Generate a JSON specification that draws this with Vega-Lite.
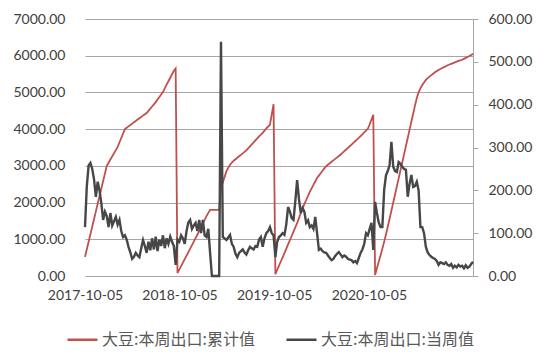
{
"$schema":"https://vega.github.io/schema/vega-lite/v6.json",
"width":388,"height":257,
"autosize":{"type":"none"},
"padding":{"left":85,"top":19,"right":77,"bottom":82},
"background":"white",
"config":{"view":{"stroke":null},"font":"Lato","axis":{"labelFont":"Lato","labelFontSize":14,"labelColor":"#404040"}},
"data":{"values":[
{"date":"2017-10-05","cum":520,"wk":114},{"date":"2017-10-12","cum":727,"wk":210},{"date":"2017-10-19","cum":933,"wk":258},{"date":"2017-10-26","cum":1140,"wk":264},{"date":"2017-11-02","cum":1347,"wk":250},{"date":"2017-11-09","cum":1553,"wk":225},{"date":"2017-11-16","cum":1760,"wk":185},{"date":"2017-11-23","cum":1967,"wk":220},{"date":"2017-11-30","cum":2173,"wk":200},{"date":"2017-12-07","cum":2380,"wk":170},{"date":"2017-12-14","cum":2587,"wk":131},{"date":"2017-12-21","cum":2793,"wk":150},{"date":"2017-12-28","cum":3000,"wk":140},
{"date":"2018-01-04","cum":3086,"wk":114},{"date":"2018-01-11","cum":3172,"wk":147},{"date":"2018-01-18","cum":3258,"wk":118},{"date":"2018-01-25","cum":3343,"wk":128},{"date":"2018-02-01","cum":3429,"wk":138},{"date":"2018-02-08","cum":3515,"wk":120},{"date":"2018-02-15","cum":3636,"wk":131},{"date":"2018-02-22","cum":3758,"wk":105},{"date":"2018-03-01","cum":3879,"wk":91},{"date":"2018-03-08","cum":4000,"wk":95},{"date":"2018-03-15","cum":4038,"wk":85},{"date":"2018-03-22","cum":4076,"wk":68},{"date":"2018-03-29","cum":4113,"wk":55},{"date":"2018-04-05","cum":4151,"wk":40},{"date":"2018-04-12","cum":4188,"wk":45},{"date":"2018-04-19","cum":4224,"wk":54},{"date":"2018-04-26","cum":4260,"wk":48},{"date":"2018-05-03","cum":4296,"wk":44},{"date":"2018-05-10","cum":4332,"wk":65},{"date":"2018-05-17","cum":4368,"wk":84},{"date":"2018-05-24","cum":4404,"wk":70},{"date":"2018-05-31","cum":4440,"wk":54},{"date":"2018-06-07","cum":4499,"wk":80},{"date":"2018-06-14","cum":4557,"wk":60},{"date":"2018-06-21","cum":4616,"wk":88},{"date":"2018-06-28","cum":4675,"wk":62},{"date":"2018-07-05","cum":4737,"wk":92},{"date":"2018-07-12","cum":4805,"wk":58},{"date":"2018-07-19","cum":4873,"wk":85},{"date":"2018-07-26","cum":4942,"wk":70},{"date":"2018-08-02","cum":5010,"wk":95},{"date":"2018-08-09","cum":5110,"wk":65},{"date":"2018-08-16","cum":5210,"wk":88},{"date":"2018-08-23","cum":5305,"wk":75},{"date":"2018-08-30","cum":5400,"wk":92},{"date":"2018-09-06","cum":5495,"wk":80},{"date":"2018-09-13","cum":5590,"wk":70},{"date":"2018-09-20","cum":5650,"wk":26},
{"date":"2018-09-27","cum":80,"wk":85},{"date":"2018-10-04","cum":175,"wk":80},{"date":"2018-10-11","cum":270,"wk":95},{"date":"2018-10-18","cum":365,"wk":88},{"date":"2018-10-25","cum":460,"wk":75},{"date":"2018-11-01","cum":555,"wk":105},{"date":"2018-11-08","cum":650,"wk":125},{"date":"2018-11-15","cum":745,"wk":131},{"date":"2018-11-22","cum":840,"wk":110},{"date":"2018-11-29","cum":935,"wk":118},{"date":"2018-12-06","cum":1030,"wk":124},{"date":"2018-12-13","cum":1130,"wk":105},{"date":"2018-12-20","cum":1230,"wk":131},{"date":"2018-12-27","cum":1330,"wk":100},
{"date":"2019-01-03","cum":1430,"wk":131},{"date":"2019-01-10","cum":1530,"wk":95},{"date":"2019-01-17","cum":1630,"wk":91},{"date":"2019-01-24","cum":1720,"wk":110},{"date":"2019-01-31","cum":1800,"wk":54},{"date":"2019-02-07","cum":1800,"wk":0},{"date":"2019-02-14","cum":1800,"wk":0},{"date":"2019-02-21","cum":1800,"wk":0},{"date":"2019-02-28","cum":1800,"wk":0},{"date":"2019-03-07","cum":1800,"wk":0},{"date":"2019-03-14","cum":2400,"wk":547},{"date":"2019-03-21","cum":2550,"wk":91},{"date":"2019-03-28","cum":2700,"wk":88},{"date":"2019-04-04","cum":2850,"wk":84},{"date":"2019-04-11","cum":2950,"wk":90},{"date":"2019-04-18","cum":3030,"wk":96},{"date":"2019-04-25","cum":3090,"wk":75},{"date":"2019-05-02","cum":3140,"wk":68},{"date":"2019-05-09","cum":3180,"wk":52},{"date":"2019-05-16","cum":3220,"wk":44},{"date":"2019-05-23","cum":3260,"wk":54},{"date":"2019-05-30","cum":3300,"wk":58},{"date":"2019-06-06","cum":3340,"wk":62},{"date":"2019-06-13","cum":3380,"wk":55},{"date":"2019-06-20","cum":3420,"wk":50},{"date":"2019-06-27","cum":3475,"wk":60},{"date":"2019-07-04","cum":3530,"wk":68},{"date":"2019-07-11","cum":3585,"wk":65},{"date":"2019-07-18","cum":3640,"wk":62},{"date":"2019-07-25","cum":3695,"wk":70},{"date":"2019-08-01","cum":3750,"wk":68},{"date":"2019-08-08","cum":3800,"wk":85},{"date":"2019-08-15","cum":3850,"wk":91},{"date":"2019-08-22","cum":3900,"wk":68},{"date":"2019-08-29","cum":3960,"wk":88},{"date":"2019-09-05","cum":4020,"wk":100},{"date":"2019-09-12","cum":4070,"wk":105},{"date":"2019-09-19","cum":4120,"wk":114},{"date":"2019-09-26","cum":4400,"wk":100},{"date":"2019-10-03","cum":4680,"wk":95},
{"date":"2019-10-10","cum":50,"wk":44},{"date":"2019-10-17","cum":165,"wk":80},{"date":"2019-10-24","cum":280,"wk":91},{"date":"2019-10-31","cum":395,"wk":95},{"date":"2019-11-07","cum":510,"wk":100},{"date":"2019-11-14","cum":625,"wk":96},{"date":"2019-11-21","cum":740,"wk":120},{"date":"2019-11-28","cum":860,"wk":161},{"date":"2019-12-05","cum":975,"wk":150},{"date":"2019-12-12","cum":1090,"wk":135},{"date":"2019-12-19","cum":1210,"wk":131},{"date":"2019-12-26","cum":1325,"wk":175},
{"date":"2020-01-02","cum":1440,"wk":224},{"date":"2020-01-09","cum":1575,"wk":180},{"date":"2020-01-16","cum":1710,"wk":147},{"date":"2020-01-23","cum":1845,"wk":159},{"date":"2020-01-30","cum":1960,"wk":150},{"date":"2020-02-06","cum":2070,"wk":124},{"date":"2020-02-13","cum":2180,"wk":130},{"date":"2020-02-20","cum":2290,"wk":114},{"date":"2020-02-27","cum":2385,"wk":118},{"date":"2020-03-05","cum":2480,"wk":110},{"date":"2020-03-12","cum":2575,"wk":138},{"date":"2020-03-19","cum":2670,"wk":100},{"date":"2020-03-26","cum":2735,"wk":61},{"date":"2020-04-02","cum":2800,"wk":64},{"date":"2020-04-09","cum":2865,"wk":58},{"date":"2020-04-16","cum":2930,"wk":55},{"date":"2020-04-23","cum":2990,"wk":54},{"date":"2020-04-30","cum":3030,"wk":48},{"date":"2020-05-07","cum":3070,"wk":42},{"date":"2020-05-14","cum":3110,"wk":37},{"date":"2020-05-21","cum":3150,"wk":40},{"date":"2020-05-28","cum":3190,"wk":47},{"date":"2020-06-04","cum":3230,"wk":52},{"date":"2020-06-11","cum":3270,"wk":56},{"date":"2020-06-18","cum":3310,"wk":50},{"date":"2020-06-25","cum":3355,"wk":44},{"date":"2020-07-02","cum":3400,"wk":48},{"date":"2020-07-09","cum":3445,"wk":45},{"date":"2020-07-16","cum":3490,"wk":40},{"date":"2020-07-23","cum":3535,"wk":38},{"date":"2020-07-30","cum":3580,"wk":37},{"date":"2020-08-06","cum":3625,"wk":32},{"date":"2020-08-13","cum":3670,"wk":35},{"date":"2020-08-20","cum":3715,"wk":30},{"date":"2020-08-27","cum":3760,"wk":42},{"date":"2020-09-03","cum":3810,"wk":54},{"date":"2020-09-10","cum":3860,"wk":62},{"date":"2020-09-17","cum":3910,"wk":75},{"date":"2020-09-24","cum":3960,"wk":100},{"date":"2020-10-01","cum":4010,"wk":95},{"date":"2020-10-08","cum":4130,"wk":110},{"date":"2020-10-15","cum":4260,"wk":124},{"date":"2020-10-22","cum":4390,"wk":61},
{"date":"2020-10-29","cum":30,"wk":173},{"date":"2020-11-05","cum":210,"wk":147},{"date":"2020-11-12","cum":390,"wk":125},{"date":"2020-11-19","cum":560,"wk":114},{"date":"2020-11-26","cum":740,"wk":114},{"date":"2020-12-03","cum":930,"wk":201},{"date":"2020-12-10","cum":1130,"wk":235},{"date":"2020-12-17","cum":1340,"wk":245},{"date":"2020-12-24","cum":1560,"wk":259},{"date":"2020-12-31","cum":1780,"wk":313},
{"date":"2021-01-07","cum":2000,"wk":255},{"date":"2021-01-14","cum":2220,"wk":245},{"date":"2021-01-21","cum":2440,"wk":243},{"date":"2021-01-28","cum":2660,"wk":266},{"date":"2021-02-04","cum":2880,"wk":262},{"date":"2021-02-11","cum":3100,"wk":255},{"date":"2021-02-18","cum":3320,"wk":250},{"date":"2021-02-25","cum":3540,"wk":248},{"date":"2021-03-04","cum":3760,"wk":185},{"date":"2021-03-11","cum":3980,"wk":215},{"date":"2021-03-18","cum":4200,"wk":236},{"date":"2021-03-25","cum":4420,"wk":208},{"date":"2021-04-01","cum":4640,"wk":210},{"date":"2021-04-08","cum":4850,"wk":220},{"date":"2021-04-15","cum":5000,"wk":200},{"date":"2021-04-22","cum":5110,"wk":114},{"date":"2021-04-29","cum":5200,"wk":114},{"date":"2021-05-06","cum":5270,"wk":100},{"date":"2021-05-13","cum":5340,"wk":68},{"date":"2021-05-20","cum":5390,"wk":55},{"date":"2021-05-27","cum":5430,"wk":49},{"date":"2021-06-03","cum":5470,"wk":45},{"date":"2021-06-10","cum":5510,"wk":42},{"date":"2021-06-17","cum":5550,"wk":40},{"date":"2021-06-24","cum":5580,"wk":35},{"date":"2021-07-01","cum":5610,"wk":26},{"date":"2021-07-08","cum":5640,"wk":32},{"date":"2021-07-15","cum":5665,"wk":30},{"date":"2021-07-22","cum":5690,"wk":28},{"date":"2021-07-29","cum":5715,"wk":32},{"date":"2021-08-05","cum":5740,"wk":26},{"date":"2021-08-12","cum":5760,"wk":24},{"date":"2021-08-19","cum":5780,"wk":28},{"date":"2021-08-26","cum":5800,"wk":19},{"date":"2021-09-02","cum":5820,"wk":24},{"date":"2021-09-09","cum":5840,"wk":20},{"date":"2021-09-16","cum":5860,"wk":26},{"date":"2021-09-23","cum":5875,"wk":22},{"date":"2021-09-30","cum":5890,"wk":24},{"date":"2021-10-07","cum":5915,"wk":18},{"date":"2021-10-14","cum":5940,"wk":25},{"date":"2021-10-21","cum":5965,"wk":19},{"date":"2021-10-28","cum":5990,"wk":22},{"date":"2021-11-04","cum":6020,"wk":28},{"date":"2021-11-11","cum":6050,"wk":33}
]},
"encoding":{
"x":{"field":"date","type":"temporal",
"scale":{"type":"utc","nice":false,"domain":[{"year":2017,"month":10,"date":5,"utc":true},{"year":2021,"month":11,"date":11,"utc":true}]},
"axis":{"title":null,"values":[{"year":2017,"month":10,"date":5,"utc":true},{"year":2018,"month":10,"date":5,"utc":true},{"year":2019,"month":10,"date":5,"utc":true},{"year":2020,"month":10,"date":5,"utc":true}],"labelExpr":"utcFormat(datum.value, '%Y-%m-%d')","grid":false,"domain":false,"ticks":false,"labelPadding":12,"labelFlush":false,"labelOverlap":false,"labelAngle":0}}
},
"layer":[
{"mark":{"type":"line","strokeWidth":1.8,"interpolate":"linear"},
"encoding":{
"y":{"field":"cum","type":"quantitative","scale":{"domain":[0,7000],"nice":false},"axis":{"title":null,"orient":"left","values":[0,1000,2000,3000,4000,5000,6000,7000],"format":".2f","grid":true,"gridColor":"#a6a6a6","gridWidth":1,"domain":false,"ticks":false,"labelPadding":20}},
"color":{"datum":"大豆:本周出口:累计值","type":"nominal","scale":{"domain":["大豆:本周出口:累计值","大豆:本周出口:当周值"],"range":["#C0504D","#474747"]},
"legend":{"title":null,"orient":"none","legendX":-19,"legendY":304,"direction":"horizontal","symbolType":"stroke","symbolSize":900,"symbolStrokeWidth":2.5,"labelFont":"Noto Sans CJK SC","labelFontSize":16,"labelColor":"#595959","labelOffset":3,"columnPadding":26,"labelLimit":400,"padding":0}}
}},
{"mark":{"type":"line","strokeWidth":2.4,"interpolate":"linear"},
"encoding":{
"y":{"field":"wk","type":"quantitative","scale":{"domain":[0,600],"nice":false},"axis":{"title":null,"orient":"right","values":[0,100,200,300,400,500,600],"format":".2f","grid":false,"domain":true,"domainColor":"#a6a6a6","ticks":true,"tickColor":"#a6a6a6","tickSize":5,"labelPadding":10}},
"color":{"datum":"大豆:本周出口:当周值","type":"nominal"}
}}
],
"resolve":{"scale":{"y":"independent"}}
}
